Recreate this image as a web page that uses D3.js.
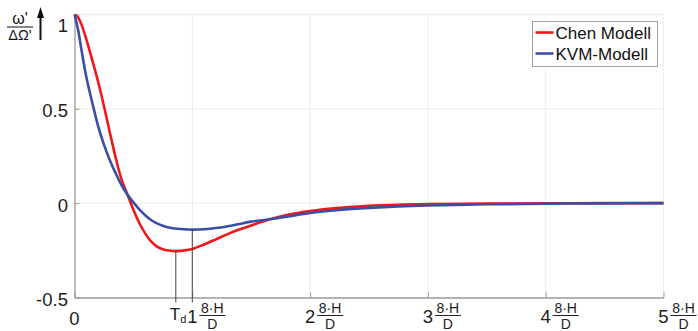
<!DOCTYPE html>
<html>
<head>
<meta charset="utf-8">
<script src="https://cdn.jsdelivr.net/npm/d3@7"></script>
<style>
  body { margin: 0; background: #fff; }
  svg { display: block; font-family: "Liberation Sans", Arial, sans-serif; }
</style>
</head>
<body>
<div id="chart"></div>
<script>
// data
const xVals = [0, 0.03, 0.06, 0.1, 0.15, 0.2, 0.25, 0.3, 0.35, 0.4, 0.45, 0.5, 0.55, 0.6, 0.65, 0.7, 0.75, 0.8, 0.87, 0.95, 1.0, 1.1, 1.2, 1.3, 1.4, 1.5, 1.66, 1.8, 2.0, 2.25, 2.5, 2.75, 3.0, 3.5, 4.0, 4.5, 5.0];
const chen = [1.0, 0.985, 0.945, 0.87, 0.76, 0.645, 0.515, 0.375, 0.24, 0.125, 0.045, -0.035, -0.105, -0.16, -0.203, -0.23, -0.244, -0.251, -0.254, -0.249, -0.243, -0.219, -0.192, -0.164, -0.14, -0.118, -0.085, -0.063, -0.042, -0.025, -0.014, -0.008, -0.005, -0.002, -0.001, 0, 0];
const kvm = [1.0, 0.92, 0.81, 0.67, 0.535, 0.41, 0.31, 0.228, 0.158, 0.095, 0.045, 0.004, -0.033, -0.064, -0.089, -0.107, -0.12, -0.129, -0.136, -0.139, -0.14, -0.138, -0.132, -0.122, -0.11, -0.098, -0.085, -0.072, -0.052, -0.036, -0.025, -0.017, -0.012, -0.006, -0.003, -0.001, 0];
const seriesNames = ["Chen Modell", "KVM-Modell"];
const seriesColors = ["#f0171b", "#3b4ea6"];
const xTicks = [0, 1, 2, 3, 4, 5];
const yTicks = [-0.5, 0, 0.5, 1];
const yTickLabels = ["-0.5", "0", "0.5", "1"];
const tdX = 0.86;     // Td marker (Chen minimum)
const kvmMinX = 1.0;  // KVM minimum

let width = 698,
    height = 331;

const x = d3.scaleLinear().domain([0, 5]).range([74.5, 663.5]);
const y = d3.scaleLinear().domain([-0.5, 1]).range([297.5, 14.5]);

const svg = d3.select("#chart").append("svg")
    .attr("width", width)
    .attr("height", height);

//grid
svg.append("g")
    .selectAll("line")
    .data(xTicks.slice(1))
    .join("line")
    .attr("x1", d => x(d)).attr("x2", d => x(d))
    .attr("y1", y(1)).attr("y2", y(-0.5))
    .attr("stroke", "#ececec");
svg.append("g")
    .selectAll("line")
    .data(yTicks.slice(1))
    .join("line")
    .attr("x1", x(0)).attr("x2", x(5))
    .attr("y1", d => y(d)).attr("y2", d => y(d))
    .attr("stroke", "#ececec");

//axes
const xAxis = svg.append("g")
    .attr("transform", `translate(0,${y(-0.5)})`)
    .call(d3.axisBottom(x).tickValues(xTicks).tickSizeInner(-5).tickSizeOuter(0).tickFormat(""));
const yAxis = svg.append("g")
    .attr("transform", `translate(${x(0)},0)`)
    .call(d3.axisLeft(y).tickValues(yTicks).tickSizeInner(-5).tickSizeOuter(0).tickFormat(""));
[xAxis, yAxis].forEach(a => {
    a.select(".domain").attr("stroke", "#9a9a9a").attr("stroke-width", 1.3);
    a.selectAll(".tick line").attr("stroke", "#9a9a9a");
});

//y tick labels
svg.append("g")
    .selectAll("text")
    .data(yTicks)
    .join("text")
    .attr("x", 68)
    .attr("y", d => Math.max(y(d) + 8.5, 32))
    .attr("text-anchor", "end")
    .attr("font-size", 18.5)
    .attr("fill", "#222")
    .text((d, i) => yTickLabels[i]);

//x tick labels: number plus 8·H/D fraction
const xt = svg.append("g")
    .selectAll("g")
    .data(xTicks)
    .join("g")
    .attr("transform", d => `translate(${x(d)},0)`);
xt.append("text")
    .attr("y", d => d === 0 ? 325 : 323)
    .attr("text-anchor", "middle")
    .attr("font-size", 18.5)
    .attr("fill", "#222")
    .text(d => d);
const frac = xt.filter(d => d > 0);
frac.append("text")
    .attr("x", 20).attr("y", 313)
    .attr("text-anchor", "middle")
    .attr("font-size", 14)
    .attr("fill", "#222")
    .text("8·H");
frac.append("line")
    .attr("x1", 7).attr("x2", 33)
    .attr("y1", 315.5).attr("y2", 315.5)
    .attr("stroke", "#222").attr("stroke-width", 1);
frac.append("text")
    .attr("x", 20).attr("y", 329)
    .attr("text-anchor", "middle")
    .attr("font-size", 14)
    .attr("fill", "#222")
    .text("D");

//lines
const line = d3.line()
    .x(d => x(d[0]))
    .y(d => y(d[1]))
    .curve(d3.curveCatmullRom.alpha(0.5));
const series = [chen, kvm];
series.forEach((s, i) => {
    svg.append("path")
        .datum(xVals.map((v, j) => [v, s[j]]))
        .attr("fill", "none")
        .attr("stroke", seriesColors[i])
        .attr("stroke-width", 2.6)
        .attr("d", line);
});

//Td markers
const chenAt = v => chen[d3.bisectLeft(xVals, v)];
const kvmAt = v => kvm[d3.bisectLeft(xVals, v)];
svg.append("line")
    .attr("x1", x(tdX)).attr("x2", x(tdX))
    .attr("y1", y(chenAt(tdX))).attr("y2", y(-0.5) + 5)
    .attr("stroke", "#444").attr("stroke-width", 1);
svg.append("line")
    .attr("x1", x(kvmMinX)).attr("x2", x(kvmMinX))
    .attr("y1", y(kvmAt(kvmMinX))).attr("y2", y(-0.5) + 5)
    .attr("stroke", "#444").attr("stroke-width", 1);
const td = svg.append("text")
    .attr("x", x(tdX) - 6).attr("y", 320)
    .attr("font-size", 17)
    .attr("fill", "#222");
td.append("tspan").text("T");
td.append("tspan").attr("dy", 3).attr("font-size", 11).text("d");

//y label: ω'/ΔΩ' with arrow
const yl = svg.append("g").attr("fill", "#111");
yl.append("text").attr("x", 20).attr("y", 24).attr("text-anchor", "middle").attr("font-size", 16).text("ω'");
yl.append("line").attr("x1", 7).attr("x2", 33).attr("y1", 27).attr("y2", 27).attr("stroke", "#111").attr("stroke-width", 1);
yl.append("text").attr("x", 20).attr("y", 39.5).attr("text-anchor", "middle").attr("font-size", 14.5).text("ΔΩ'");
yl.append("line").attr("x1", 40.5).attr("x2", 40.5).attr("y1", 40).attr("y2", 14).attr("stroke", "#111").attr("stroke-width", 2);
yl.append("path").attr("d", "M37,18 L40.5,7 L44,18 Z");

//legend
const lg = svg.append("g").attr("transform", "translate(532.5,21.5)");
lg.append("rect")
    .attr("width", 125).attr("height", 45)
    .attr("fill", "#fff").attr("stroke", "#a0a0a0");
seriesNames.forEach((n, i) => {
    lg.append("line")
        .attr("x1", 3).attr("x2", 21)
        .attr("y1", 11 + i * 21).attr("y2", 11 + i * 21)
        .attr("stroke", seriesColors[i]).attr("stroke-width", 2.6);
    lg.append("text")
        .attr("x", 23).attr("y", 17 + i * 21)
        .attr("font-size", 17)
        .attr("fill", "#111")
        .text(n);
});
</script>
</body>
</html>
